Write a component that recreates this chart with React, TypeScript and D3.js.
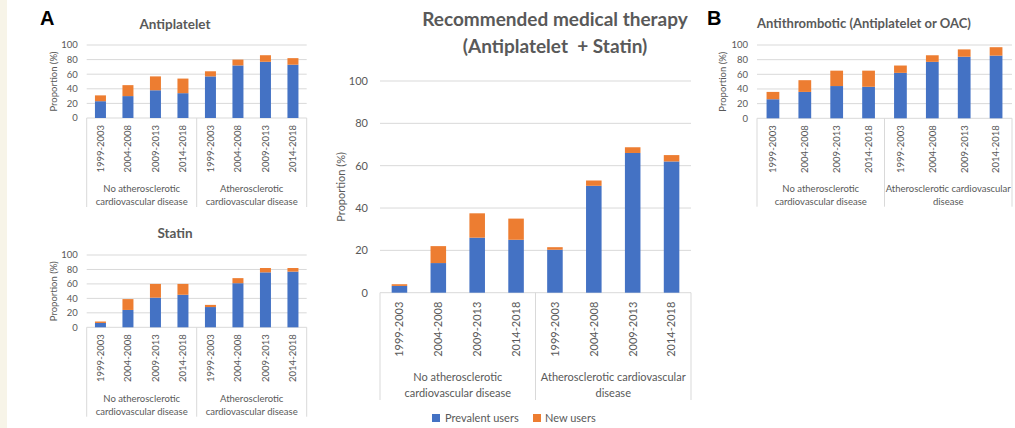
import React from "react";
import * as d3 from "d3";

const periods = ["1999-2003", "2004-2008", "2009-2013", "2014-2018", "1999-2003", "2004-2008", "2009-2013", "2014-2018"];
const yTicks = [0, 20, 40, 60, 80, 100];
const seriesNames = ["Prevalent users", "New users"];

const antiplateletPrevalent = [23, 30, 38, 34, 57, 72, 77, 73];
const antiplateletNew = [8, 15, 19, 20, 7, 8, 9, 9];
const statinPrevalent = [6, 24, 41, 45, 28, 61, 76, 77];
const statinNew = [2, 15, 19, 15, 3, 7, 6, 5];
const comboPrevalent = [3.2, 14, 26, 25, 20.3, 50.5, 66, 62];
const comboNew = [0.8, 8, 11.5, 10, 1.2, 2.5, 2.7, 3];
const antithromboticPrevalent = [26, 36, 44, 43, 62, 77, 84, 85.5];
const antithromboticNew = [10, 16, 21, 22, 10, 9, 10, 11.5];

const groupLinesNarrow = [["No atherosclerotic", "cardiovascular disease"], ["Atherosclerotic", "cardiovascular disease"]];
const groupLinesWide = [["No atherosclerotic", "cardiovascular disease"], ["Atherosclerotic cardiovascular", "disease"]];

const BLUE = "#4472C4";
const ORANGE = "#ED7D31";
const TEXT = "#595959";
const GRID = "#D9D9D9";
const FONT = "Lato, 'Open Sans', sans-serif";

type PanelProps = {
  prevalent: number[];
  newer: number[];
  x0: number;
  x1: number;
  yZero: number;
  yHundred: number;
  tickFont: number;
  tickGap: number;
  catFont: number;
  catOffset: number;
  groupFont: number;
  groupLines: string[][];
  groupY: number[];
  sepEnd: number;
  yLabel: string;
  yLabelX: number;
  yLabelFont: number;
};

function Panel(p: PanelProps) {
  const idx = periods.map((_, i) => i);
  const x = d3.scaleBand<number>().domain(idx).range([p.x0, p.x1]).paddingInner(0.6).paddingOuter(0.3);
  const y = d3.scaleLinear().domain([0, 100]).range([p.yZero, p.yHundred]);
  const step = x.step();
  const stacked = d3.stack<number>().keys(["a", "b"]).value((i, k) => (k === "a" ? p.prevalent[i] : p.newer[i]))(idx);
  const colors = [BLUE, ORANGE];
  const seps = [p.x0, p.x0 + 4 * step, p.x1];
  const groupCenters = [p.x0 + 2 * step, p.x0 + 6 * step];
  return (
    <g fontFamily={FONT} fill={TEXT}>
      {yTicks.map((t) => (
        <g key={t}>
          <line x1={p.x0} x2={p.x1} y1={y(t)} y2={y(t)} stroke={GRID} strokeWidth={1} />
          <text x={p.x0 - p.tickGap} y={y(t)} dy="0.35em" textAnchor="end" fontSize={p.tickFont}>
            {t}
          </text>
        </g>
      ))}
      {stacked.map((s, si) => (
        <g key={si}>
          {s.map((d, i) => (
            <rect key={i} x={x(i)} width={x.bandwidth()} y={y(d[1])} height={y(d[0]) - y(d[1])} fill={colors[si]} />
          ))}
        </g>
      ))}
      {seps.map((sx, i) => (
        <line key={i} x1={sx} x2={sx} y1={p.yZero} y2={p.sepEnd} stroke={GRID} strokeWidth={1} />
      ))}
      {periods.map((lab, i) => (
        <text
          key={i}
          transform={`translate(${(x(i) as number) + x.bandwidth() / 2},${p.yZero + p.catOffset}) rotate(-90)`}
          textAnchor="end"
          dy="0.35em"
          fontSize={p.catFont}
        >
          {lab}
        </text>
      ))}
      {p.groupLines.map((lines, gi) =>
        lines.map((ln, li) => (
          <text key={`${gi}-${li}`} x={groupCenters[gi]} y={p.groupY[li]} dy="0.35em" textAnchor="middle" fontSize={p.groupFont}>
            {ln}
          </text>
        ))
      )}
      <text
        transform={`translate(${p.yLabelX},${(p.yZero + p.yHundred) / 2}) rotate(-90)`}
        textAnchor="middle"
        dy="0.35em"
        fontSize={p.yLabelFont}
      >
        {p.yLabel}
      </text>
    </g>
  );
}

export default function App() {
  return (
    <svg width={1015} height={428} style={{ position: "absolute", left: 0, top: 0, background: "#fff" }}>
      <rect x={0} y={0} width={1015} height={428} fill="#fff" />
      <rect x={0} y={0} width={7} height={428} fill="#F7F4E8" />

      <text x={40} y={25} fontFamily="'Liberation Sans', Arial, sans-serif" fontWeight="bold" fontSize={20} fill="#000">A</text>
      <text x={707} y={25} fontFamily="'Liberation Sans', Arial, sans-serif" fontWeight="bold" fontSize={20} fill="#000">B</text>

      <text x={175} y={29} textAnchor="middle" fontFamily={FONT} fontWeight="bold" fontSize={13.5} fill={TEXT}>Antiplatelet</text>
      <text x={175} y={238} textAnchor="middle" fontFamily={FONT} fontWeight="bold" fontSize={13.5} fill={TEXT}>Statin</text>
      <text x={555} y={26} textAnchor="middle" fontFamily={FONT} fontWeight="bold" fontSize={19} fill={TEXT}>Recommended medical therapy</text>
      <text x={555} y={53} textAnchor="middle" fontFamily={FONT} fontWeight="bold" fontSize={19} fill={TEXT} style={{ whiteSpace: "pre" }}>(Antiplatelet  + Statin)</text>
      <text x={864} y={28} textAnchor="middle" fontFamily={FONT} fontWeight="bold" fontSize={13} fill={TEXT}>Antithrombotic (Antiplatelet or OAC)</text>

      <Panel prevalent={antiplateletPrevalent} newer={antiplateletNew} x0={86.7} x1={306.7} yZero={118} yHundred={45}
        tickFont={9.5} tickGap={9} catFont={9.5} catOffset={7} groupFont={9.5} groupLines={groupLinesNarrow}
        groupY={[189, 201.7]} sepEnd={207} yLabel="Proportion (%)" yLabelX={53.5} yLabelFont={9.5} />
      <Panel prevalent={statinPrevalent} newer={statinNew} x0={86.7} x1={306.7} yZero={327.3} yHundred={255}
        tickFont={9.5} tickGap={9} catFont={9.5} catOffset={7} groupFont={9.5} groupLines={groupLinesNarrow}
        groupY={[398.3, 411.7]} sepEnd={416.7} yLabel="Proportion (%)" yLabelX={53.5} yLabelFont={9.5} />
      <Panel prevalent={comboPrevalent} newer={comboNew} x0={380} x1={691} yZero={292.7} yHundred={81}
        tickFont={11} tickGap={12} catFont={11} catOffset={9} groupFont={11} groupLines={groupLinesWide}
        groupY={[376.7, 392.7]} sepEnd={400} yLabel="Proportion  (%)" yLabelX={341} yLabelFont={11} />
      <Panel prevalent={antithromboticPrevalent} newer={antithromboticNew} x0={757} x1={1012} yZero={118.3} yHundred={45}
        tickFont={9.5} tickGap={9} catFont={9.5} catOffset={7} groupFont={9.5} groupLines={groupLinesWide}
        groupY={[188.3, 201.7]} sepEnd={206.7} yLabel="Proportion (%)" yLabelX={723} yLabelFont={9.5} />

      <g fontFamily={FONT} fontSize={11} fill={TEXT}>
        <rect x={432} y={414} width={8} height={8} fill={BLUE} />
        <text x={445} y={418} dy="0.35em">{seriesNames[0]}</text>
        <rect x={533} y={414} width={8} height={8} fill={ORANGE} />
        <text x={545} y={418} dy="0.35em">{seriesNames[1]}</text>
      </g>
    </svg>
  );
}
